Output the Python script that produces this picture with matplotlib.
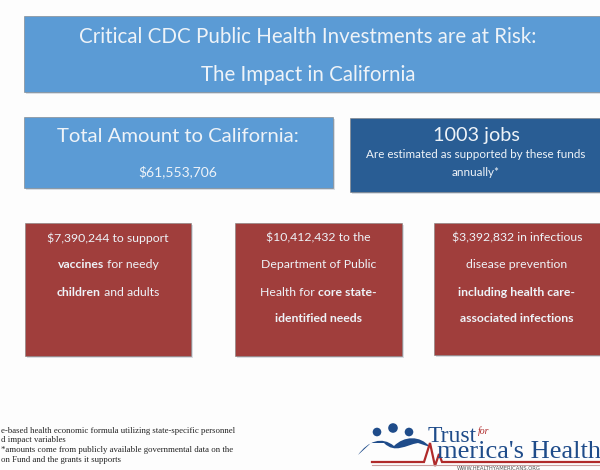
import matplotlib
matplotlib.use("Agg")
import matplotlib.pyplot as plt
from matplotlib.patches import Rectangle, Circle, PathPatch
from matplotlib.path import Path

# data
state = "California"
title_lines = ["Critical CDC Public Health Investments are at Risk:",
               "The Impact in " + state]
total_amount = 61553706
jobs = 1003
grant_amounts = [7390244, 10412432, 3392832]
# each grant: list of lines, each line a list of (text, bold)
grant_lines = [
    [[("${:,} to support".format(grant_amounts[0]), False)],
     [("vaccines", True), (" for needy", False)],
     [("children", True), (" and adults", False)]],
    [[("${:,} to the".format(grant_amounts[1]), False)],
     [("Department of Public", False)],
     [("Health for ", False), ("core state-", True)],
     [("identified needs", True)]],
    [[("${:,} in infectious".format(grant_amounts[2]), False)],
     [("disease prevention", False)],
     [("including health care-", True)],
     [("associated infections", True)]],
]
footnote_lines = ["e-based health economic formula utilizing state-specific personnel",
                  "d impact variables",
                  "*amounts come from publicly available governmental data on the",
                  "on Fund and the grants it supports"]

light_blue = "#5b9bd5"
dark_blue = "#295d94"
red = "#a03e3c"
txt = "#eef3f8"
font = "Lato"

fig = plt.figure(figsize=(6, 4.7), dpi=100)
fig.patch.set_facecolor("#fdfdfd")
ax = fig.add_axes([0, 0, 1, 1])
ax.set_xlim(0, 600)
ax.set_ylim(470, 0)
ax.axis("off")


def box(x0, y0, x1, y1, color):
    ax.add_patch(Rectangle((x0 + 1.5, y0 + 1.5), x1 - x0, y1 - y0, fc="#d8dde3", ec="none", zorder=1))
    ax.add_patch(Rectangle((x0, y0), x1 - x0, y1 - y0, fc=color, ec="#7f7f7f", lw=0.4, zorder=2))


box(24, 16, 603, 92, light_blue)
box(24, 117, 333, 188, light_blue)
box(350, 118, 603, 192, dark_blue)
red_boxes = [(25, 223, 191, 356), (235, 223, 402, 356), (434, 223, 603, 355)]
for b in red_boxes:
    box(*b, red)

for y, line in zip([37, 75], title_lines):
    ax.text(308, y, line, ha="center", va="center", color=txt, fontsize=14.8, family=font, zorder=3)

ax.text(178, 136, "Total Amount to " + state + ":", ha="center", va="center",
        color=txt, fontsize=14.6, family=font, zorder=3)
ax.text(178, 172, "${:,}".format(total_amount), ha="center", va="center",
        color=txt, fontsize=10, family=font, zorder=3)

ax.text(476, 135, "{} jobs".format(jobs), ha="center", va="center",
        color=txt, fontsize=14.3, family=font, zorder=3)
ax.text(476, 155, "Are estimated as supported by these funds", ha="center", va="center",
        color=txt, fontsize=8.4, family=font, zorder=3)
ax.text(476, 172, "annually*", ha="center", va="center",
        color=txt, fontsize=8.4, family=font, zorder=3)

# grant boxes with mixed bold text, centred line by line
fig.canvas.draw()
rend = fig.canvas.get_renderer()
line_y = [238, 265, 292, 318]
for b, lines in zip(red_boxes, grant_lines):
    cx = (b[0] + min(b[2], 600)) / 2
    for y, segs in zip(line_y, lines):
        items = []
        for s, bold in segs:
            t = ax.text(0, y, s, ha="left", va="center", color=txt, fontsize=8.8,
                        family=font, fontweight="bold" if bold else "normal", zorder=3)
            w = t.get_window_extent(rend).width
            items.append((t, w))
        total = sum(w for _, w in items)
        x = cx - total / 2
        for t, w in items:
            t.set_x(x)
            x += w

# footnote
for i, line in enumerate(footnote_lines):
    ax.text(1, 431 + i * 9.5, line, ha="left", va="center", color="#222222",
            fontsize=6.3, family="Liberation Serif", zorder=3)

# logo
logo_blue = "#1f4c8a"
logo_red = "#b02a2a"
for cx, cy, r in [(377, 432, 4.3), (393, 428, 4.8), (409, 432, 4.3)]:
    ax.add_patch(Circle((cx, cy), r, fc=logo_blue, ec="none", zorder=3))
verts = [(358, 455), (368, 441), (382, 436), (394, 446),
         (404, 436), (420, 435), (430, 447),
         (418, 443), (406, 445), (395, 454),
         (384, 443), (371, 443), (358, 455)]
codes = [Path.MOVETO, Path.CURVE4, Path.CURVE4, Path.CURVE4,
         Path.CURVE4, Path.CURVE4, Path.CURVE4,
         Path.LINETO, Path.CURVE4, Path.CURVE4, Path.CURVE4,
         Path.LINETO, Path.CLOSEPOLY]
ax.add_patch(PathPatch(Path(verts, codes), fc=logo_blue, ec="none", zorder=3))

ax.plot([372, 424, 430, 435, 439, 442, 600], [462, 462, 443, 466, 454, 462, 462],
        color=logo_red, lw=1.6, zorder=3, solid_joinstyle="miter")
ax.plot([372, 600], [464.5, 464.5], color="#c9a0a0", lw=0.8, zorder=3)
ax.text(428, 442, "Trust", ha="left", va="baseline", color=logo_blue, fontsize=17,
        family="Liberation Serif", zorder=3)
ax.text(478, 434, "for", ha="left", va="baseline", color=logo_red, fontsize=7,
        family="Liberation Serif", style="italic", zorder=3)
ax.text(437, 458, "merica's Health", ha="left", va="baseline", color=logo_blue, fontsize=19,
        family="Liberation Serif", zorder=3)
ax.text(457, 469, "WWW.HEALTHYAMERICANS.ORG", ha="left", va="center", color="#555555",
        fontsize=3.8, family="DejaVu Sans", zorder=3)

fig.savefig("out.png", dpi=100, facecolor=fig.get_facecolor())
